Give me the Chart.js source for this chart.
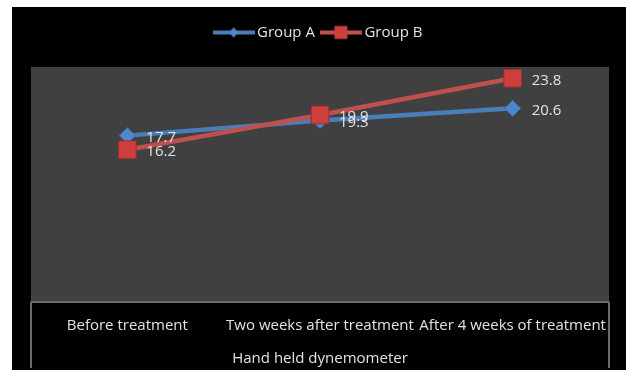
<!DOCTYPE html>
<html>
<head>
<meta charset="utf-8">
<script src="https://cdn.jsdelivr.net/npm/chart.js@4.4.1/dist/chart.umd.min.js"></script>
<style>
  html, body { margin: 0; padding: 0; background: #fff; }
  canvas { display: block; }
</style>
</head>
<body>
<canvas id="canvas" width="626" height="370"></canvas>
<script>
const categorias = ['Before treatment', 'Two weeks after treatment', 'After 4 weeks of treatment'];
const grupoA = [17.7, 19.3, 20.6];
const grupoB = [16.2, 19.9, 23.8];
const etiquetas = ['Group A', 'Group B'];
const tituloEjeX = 'Hand held dynemometer';

const azul = '#4a7ebb';
const rojo = '#c0504d';
const colorTexto = '#e2e2e2';

// Icono de la leyenda: linea con el marcador al centro
const crearIcono = (color, forma) => {
  const c = document.createElement('canvas');
  c.width = 42;
  c.height = 16;
  const ctx = c.getContext('2d');
  ctx.strokeStyle = color;
  ctx.lineWidth = 4;
  ctx.beginPath();
  ctx.moveTo(0, 8);
  ctx.lineTo(42, 8);
  ctx.stroke();
  if (forma === 'rombo') {
    ctx.fillStyle = '#4f86cc';
    ctx.beginPath();
    ctx.moveTo(21, 3);
    ctx.lineTo(26, 8);
    ctx.lineTo(21, 13);
    ctx.lineTo(16, 8);
    ctx.closePath();
    ctx.fill();
  } else {
    ctx.fillStyle = '#cc3f3c';
    ctx.fillRect(14.5, 1.5, 13, 13);
  }
  return c;
};

// Fondos: borde blanco, fondo negro y area del grafico gris
const fondo = {
  id: 'fondo',
  beforeDraw: (chart) => {
    const { ctx, chartArea: a, width, height } = chart;
    ctx.save();
    ctx.fillStyle = '#ffffff';
    ctx.fillRect(0, 0, width, height);
    ctx.fillStyle = '#000000';
    ctx.fillRect(12, 7, width - 12, height - 7);
    ctx.fillStyle = '#404040';
    ctx.fillRect(a.left, a.top, a.right - a.left, a.bottom - a.top);
    // lineas de la tabla bajo el grafico
    ctx.strokeStyle = '#6a6a6a';
    ctx.lineWidth = 2;
    ctx.beginPath();
    ctx.moveTo(a.left, a.bottom);
    ctx.lineTo(a.right, a.bottom);
    ctx.moveTo(a.left, a.bottom);
    ctx.lineTo(a.left, height - 2);
    ctx.moveTo(a.right, a.bottom);
    ctx.lineTo(a.right, height - 2);
    ctx.stroke();
    ctx.restore();
  }
};

// Valores escritos a la derecha de cada punto
const valores = {
  id: 'valores',
  afterDatasetsDraw: (chart) => {
    const { ctx } = chart;
    ctx.save();
    ctx.font = '15px "Open Sans"';
    ctx.fillStyle = colorTexto;
    ctx.textAlign = 'left';
    ctx.textBaseline = 'middle';
    chart.data.datasets.forEach((ds, i) => {
      chart.getDatasetMeta(i).data.forEach((p, j) => {
        ctx.fillText(ds.data[j].toFixed(1), p.x + 19, p.y + 2);
      });
    });
    ctx.restore();
  }
};

// Espacio extra entre la leyenda y el area del grafico
const espacioLeyenda = {
  id: 'espacioLeyenda',
  afterInit: (chart) => {
    const fit = chart.legend.fit;
    chart.legend.fit = function () {
      fit.call(this);
      this.height += 17;
    };
  }
};

Chart.defaults.font.family = '"Open Sans", sans-serif';
Chart.defaults.font.size = 15;
Chart.defaults.color = colorTexto;

const grafico = new Chart(document.getElementById('canvas'), {
  type: 'line',
  data: {
    labels: categorias,
    datasets: [
      {
        label: etiquetas[0],
        data: grupoA,
        borderColor: azul,
        borderWidth: 4.5,
        pointStyle: 'rectRot',
        pointRadius: 8,
        pointBackgroundColor: '#4f86cc',
        pointBorderColor: '#3d6fae',
        pointBorderWidth: 1,
        order: 1
      },
      {
        label: etiquetas[1],
        data: grupoB,
        borderColor: rojo,
        borderWidth: 4.5,
        pointStyle: 'rect',
        pointRadius: 12.5,
        pointBackgroundColor: '#cc3f3c',
        pointBorderColor: '#9c2e2c',
        pointBorderWidth: 1,
        order: 0
      }
    ]
  },
  options: {
    responsive: false,
    animation: false,
    layout: { padding: { left: 31, right: 17, top: 15, bottom: 2 } },
    plugins: {
      legend: {
        position: 'top',
        labels: {
          usePointStyle: true,
          pointStyleWidth: 32,
          padding: 10,
          sort: (a, b) => a.datasetIndex - b.datasetIndex,
          generateLabels: (chart) => chart.data.datasets.map((ds, i) => ({
            text: ds.label,
            datasetIndex: i,
            fontColor: colorTexto,
            pointStyle: crearIcono(ds.borderColor, i === 0 ? 'rombo' : 'cuadro'),
            lineWidth: 0,
            hidden: false
          }))
        }
      },
      tooltip: { enabled: false }
    },
    scales: {
      x: {
        offset: true,
        grid: { display: false, drawTicks: false },
        border: { display: false },
        ticks: { padding: 15, color: colorTexto, maxRotation: 0, autoSkip: false },
        title: { display: true, text: tituloEjeX, color: colorTexto, padding: { top: 0, bottom: 0 } }
      },
      y: {
        display: false,
        min: 0,
        max: 25
      }
    }
  },
  plugins: [fondo, valores, espacioLeyenda]
});
</script>
</body>
</html>
